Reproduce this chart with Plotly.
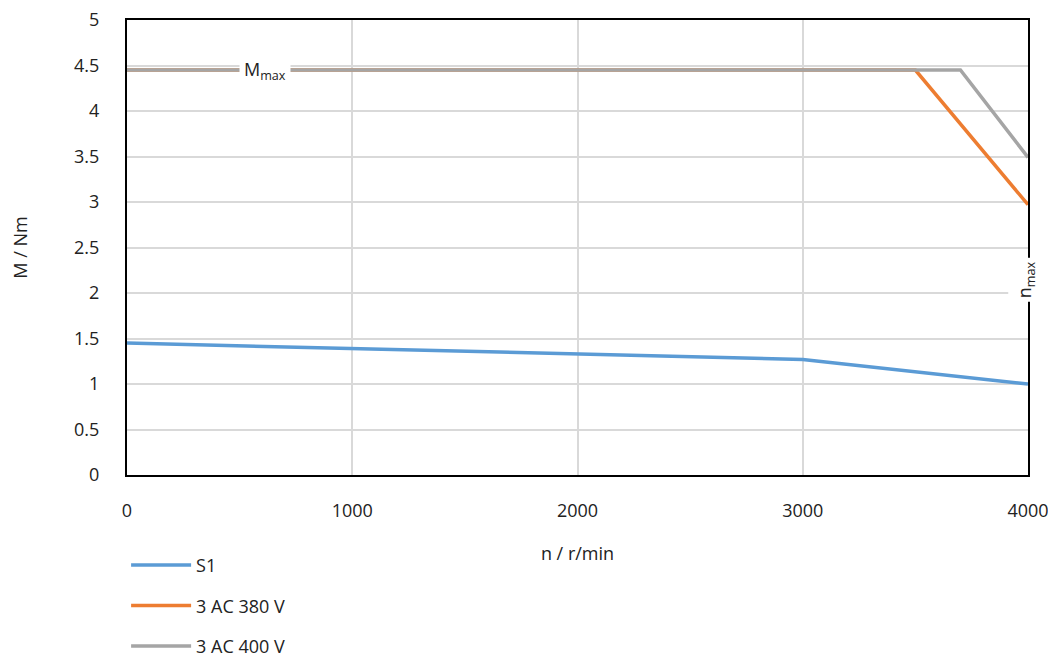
import plotly.graph_objects as go

# Data
s1_n = [0, 3000, 4000]
s1_m = [1.45, 1.27, 1.0]
ac380_n = [0, 3500, 4000]
ac380_m = [4.45, 4.45, 2.97]
ac400_n = [0, 3700, 4000]
ac400_m = [4.45, 4.45, 3.49]
x_ticks = [0, 1000, 2000, 3000, 4000]
y_ticks = [0, 0.5, 1, 1.5, 2, 2.5, 3, 3.5, 4, 4.5, 5]

FONT = "Open Sans"
FS = 18
TXT = "#222"

fig = go.Figure()
fig.add_trace(go.Scatter(x=s1_n, y=s1_m, mode="lines", name="S1",
                         line=dict(color="#5b9bd5", width=3.5), legendgroup="a"))
fig.add_trace(go.Scatter(x=ac380_n, y=ac380_m, mode="lines", name="3 AC 380 V",
                         line=dict(color="#ed7d31", width=3.5), legendgroup="b"))
fig.add_trace(go.Scatter(x=ac400_n, y=ac400_m, mode="lines", name="3 AC 400 V",
                         line=dict(color="#a5a5a5", width=3.5), legendgroup="c"))

fig.add_annotation(x=613, y=4.45, text="M<sub>max</sub>", showarrow=False,
                   bgcolor="white", borderpad=4, font=dict(family=FONT, size=FS, color=TXT))
fig.add_annotation(x=4000, y=2.14, xshift=-3, text="n<sub>max</sub>", showarrow=False, textangle=-90,
                   bgcolor="white", borderpad=3, font=dict(family=FONT, size=FS, color=TXT))

fig.update_layout(
    width=1048, height=655,
    margin=dict(l=119, r=28, t=12, b=188, autoexpand=False),
    plot_bgcolor="white", paper_bgcolor="white",
    font=dict(family=FONT, size=FS, color=TXT),
    showlegend=True,
    legend=dict(orientation="v", x=-0.001, xanchor="left", y=-0.158, yanchor="top",
                traceorder="grouped", tracegroupgap=14, font=dict(size=FS, color=TXT),
                itemwidth=60),
    xaxis=dict(range=[0, 4000], tickvals=x_ticks, showgrid=True, gridcolor="#d9d9d9", gridwidth=1.5,
               showline=True, linecolor="black", linewidth=2, mirror=True, zeroline=False,
               ticklabelstandoff=18, ticklabeloverflow="allow",
               title=dict(text="n / r/min", standoff=27, font=dict(size=FS))),
    yaxis=dict(range=[0, 5], tickvals=y_ticks, showgrid=True, gridcolor="#d9d9d9", gridwidth=1.5,
               showline=True, linecolor="black", linewidth=2, mirror=True, zeroline=False,
               ticklabelstandoff=22, ticklabeloverflow="allow",
               title=dict(text="M / Nm", standoff=45, font=dict(size=FS))),
)

fig.write_html("out.html")
